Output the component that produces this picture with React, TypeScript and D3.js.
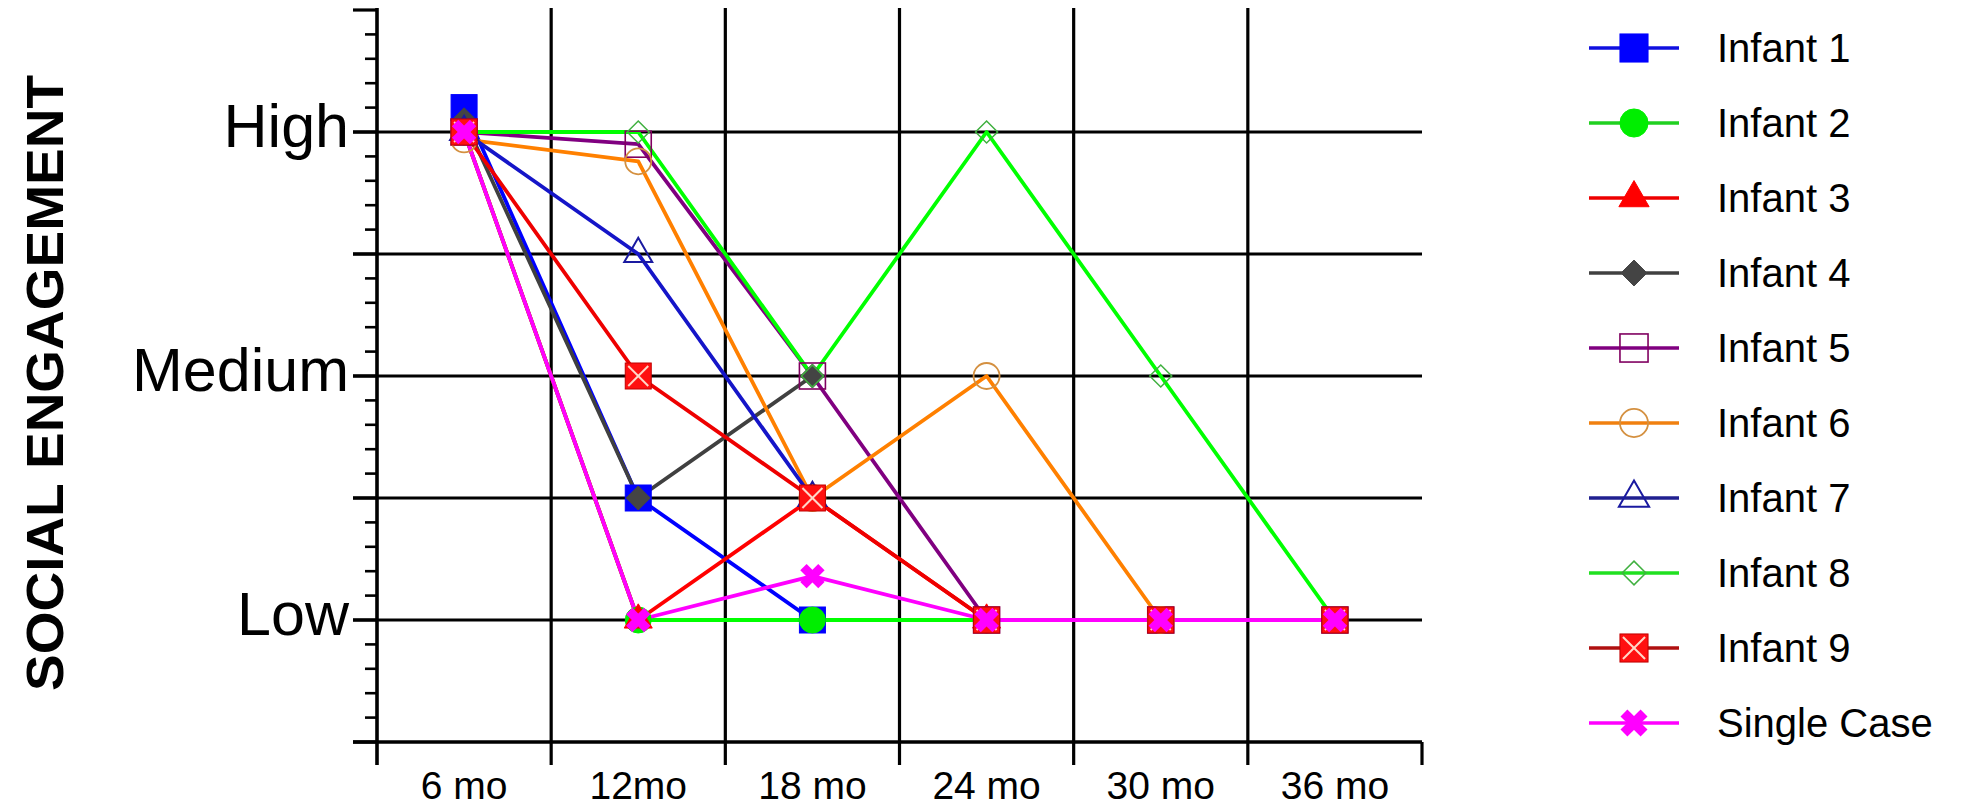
import React from 'react';
import * as d3 from 'd3';

const W = 1964;
const H = 808;

const categories = ['6 mo', '12mo', '18 mo', '24 mo', '30 mo', '36 mo'];
const levelLabels = ['Low', 'Medium', 'High'];
const levelValues = [1, 2, 3];

const infant1 = [3.1, 1.5, 1.0, null, null, null];
const infant2 = [3.0, 1.0, 1.0, 1.0, null, null];
const infant3 = [3.0, 1.0, 1.5, 1.0, null, null];
const infant4 = [3.05, 1.5, 2.0, null, null, null];
const infant5 = [3.0, 2.95, 2.0, 1.0, 1.0, 1.0];
const infant6 = [2.97, 2.88, 1.5, 2.0, 1.0, null];
const infant7 = [3.0, 2.5, 1.5, null, null, null];
const infant8 = [3.0, 3.0, 2.0, 3.0, 2.0, 1.0];
const infant9 = [3.0, 2.0, 1.5, 1.0, 1.0, 1.0];
const singleCase = [3.0, 1.0, 1.18, 1.0, 1.0, 1.0];

type Shape = 'square' | 'circle' | 'triangle' | 'diamond' | 'xsquare' | 'x';
interface Series {
  name: string;
  values: (number | null)[];
  line: string;
  legendLine: string;
  shape: Shape;
  fill: string;
  stroke: string;
  size: number;
  sw: number;
}

const series: Series[] = [
  { name: 'Infant 1', values: infant1, line: '#0000ff', legendLine: '#1010e0', shape: 'square', fill: '#0000ff', stroke: '#0000ff', size: 26, sw: 1 },
  { name: 'Infant 2', values: infant2, line: '#00ff00', legendLine: '#20d020', shape: 'circle', fill: '#00ee00', stroke: '#00ee00', size: 26, sw: 1 },
  { name: 'Infant 3', values: infant3, line: '#ff0000', legendLine: '#ee0000', shape: 'triangle', fill: '#ff0000', stroke: '#ff0000', size: 28, sw: 1 },
  { name: 'Infant 4', values: infant4, line: '#404040', legendLine: '#404040', shape: 'diamond', fill: '#444444', stroke: '#444444', size: 24, sw: 1 },
  { name: 'Infant 5', values: infant5, line: '#800080', legendLine: '#800080', shape: 'square', fill: 'none', stroke: '#800060', size: 26, sw: 1.6 },
  { name: 'Infant 6', values: infant6, line: '#ff8000', legendLine: '#f08010', shape: 'circle', fill: 'none', stroke: '#d49040', size: 26, sw: 1.8 },
  { name: 'Infant 7', values: infant7, line: '#1515c8', legendLine: '#202090', shape: 'triangle', fill: 'none', stroke: '#1a1aa0', size: 28, sw: 2 },
  { name: 'Infant 8', values: infant8, line: '#00ff00', legendLine: '#20e020', shape: 'diamond', fill: 'none', stroke: '#40b040', size: 22, sw: 1.5 },
  { name: 'Infant 9', values: infant9, line: '#ee0000', legendLine: '#b01010', shape: 'xsquare', fill: '#ff1010', stroke: '#c00000', size: 26, sw: 1 },
  { name: 'Single Case', values: singleCase, line: '#ff00ff', legendLine: '#ff00ff', shape: 'x', fill: '#ff00ff', stroke: '#ff00ff', size: 26, sw: 9 },
];

const FONT = '"Liberation Sans", Arial, Helvetica, sans-serif';

function Marker({ s, x, y, scale = 1 }: { s: Series; x: number; y: number; scale?: number }) {
  const size = s.size * scale;
  const h = size / 2;
  if (s.shape === 'square') {
    return <rect x={x - h} y={y - h} width={size} height={size} fill={s.fill} stroke={s.stroke} strokeWidth={s.sw} />;
  }
  if (s.shape === 'circle') {
    return <circle cx={x} cy={y} r={h} fill={s.fill} stroke={s.stroke} strokeWidth={s.sw} />;
  }
  if (s.shape === 'triangle') {
    const th = (size * Math.sqrt(3)) / 2;
    const p = d3.path();
    p.moveTo(x, y - (2 * th) / 3);
    p.lineTo(x + h, y + th / 3);
    p.lineTo(x - h, y + th / 3);
    p.closePath();
    return <path d={p.toString()} fill={s.fill} stroke={s.stroke} strokeWidth={s.sw} />;
  }
  if (s.shape === 'diamond') {
    const p = d3.path();
    p.moveTo(x, y - h);
    p.lineTo(x + h, y);
    p.lineTo(x, y + h);
    p.lineTo(x - h, y);
    p.closePath();
    return <path d={p.toString()} fill={s.fill} stroke={s.stroke} strokeWidth={s.sw} />;
  }
  if (s.shape === 'xsquare') {
    const i = h - 3;
    return (
      <g>
        <rect x={x - h} y={y - h} width={size} height={size} fill={s.fill} stroke={s.stroke} strokeWidth={s.sw} />
        <line x1={x - i} y1={y - i} x2={x + i} y2={y + i} stroke="#ffd8c8" strokeWidth={2} />
        <line x1={x - i} y1={y + i} x2={x + i} y2={y - i} stroke="#ffd8c8" strokeWidth={2} />
      </g>
    );
  }
  const i = h - 4;
  return (
    <g>
      <line x1={x - i} y1={y - i} x2={x + i} y2={y + i} stroke={s.stroke} strokeWidth={s.sw * scale} />
      <line x1={x - i} y1={y + i} x2={x + i} y2={y - i} stroke={s.stroke} strokeWidth={s.sw * scale} />
    </g>
  );
}

export default function App() {
  const left = 377;
  const right = 1422;
  const xScale = d3.scaleBand<string>().domain(categories).range([left, right]).padding(0);
  const yScale = d3.scaleLinear().domain([0.5, 3.5]).range([742, 10]);
  const bw = xScale.bandwidth();
  const cx = (i: number) => (xScale(categories[i]) as number) + bw / 2;

  const bottom = yScale(0.5);
  const top = yScale(3.5);

  const minor = d3.range(5, 36).map((v) => v / 10);
  const isMajor = (v: number) => Math.abs(v * 2 - Math.round(v * 2)) < 1e-6;
  const gridY = [1, 1.5, 2, 2.5, 3];

  const lineGen = d3
    .line<[number, number | null]>()
    .defined((d) => d[1] !== null)
    .x((d) => cx(d[0]))
    .y((d) => yScale(d[1] as number));

  const boundaries = categories.map((c) => xScale(c) as number).concat([right]);

  const legendX0 = 1589;
  const legendX1 = 1679;
  const legendMX = 1634;
  const legendTX = 1717;
  const legendY = (i: number) => 48 + i * 75;

  return (
    <svg width={W} height={H} style={{ position: 'absolute', left: 0, top: 0, background: '#fff' }} fontFamily={FONT}>
      <rect x={0} y={0} width={W} height={H} fill="#ffffff" />
      {/* horizontal gridlines */}
      {gridY.map((v) => (
        <line key={'gy' + v} x1={left - 24} x2={right} y1={yScale(v)} y2={yScale(v)} stroke="#000" strokeWidth={3.2} />
      ))}
      {/* vertical gridlines */}
      {boundaries.slice(1, -1).map((b, i) => (
        <line key={'gx' + i} x1={b} x2={b} y1={top - 2} y2={bottom + 23} stroke="#000" strokeWidth={3.2} />
      ))}
      <line x1={right} x2={right} y1={bottom} y2={bottom + 23} stroke="#000" strokeWidth={3.2} />
      {/* minor / major ticks on y */}
      {minor.map((v) => (
        <line
          key={'t' + v}
          x1={isMajor(v) ? left - 24 : left - 12}
          x2={left}
          y1={yScale(v)}
          y2={yScale(v)}
          stroke="#000"
          strokeWidth={isMajor(v) ? 3.2 : 2.6}
        />
      ))}
      {/* axes */}
      <line x1={left - 24} x2={right} y1={bottom} y2={bottom} stroke="#000" strokeWidth={3.6} />
      <line x1={left} x2={left} y1={top - 2} y2={bottom + 23} stroke="#000" strokeWidth={3.6} />

      {/* y tick labels */}
      {levelValues.map((v, i) => (
        <text key={'yl' + v} x={349} y={yScale(v) + 15} textAnchor="end" fontSize={61} fill="#000">
          {levelLabels[i]}
        </text>
      ))}
      {/* x tick labels */}
      {categories.map((c, i) => (
        <text key={'xl' + c} x={cx(i)} y={799} textAnchor="middle" fontSize={39} fill="#000">
          {c}
        </text>
      ))}
      {/* y axis title */}
      <text
        transform={`translate(63,383) rotate(-90)`}
        textAnchor="middle"
        fontSize={52}
        fontWeight="bold"
        textLength={616}
        lengthAdjust="spacingAndGlyphs"
        fill="#000"
      >
        SOCIAL ENGAGEMENT
      </text>

      {/* series lines */}
      {series.map((s) => (
        <path
          key={'l' + s.name}
          d={lineGen(s.values.map((v, i) => [i, v] as [number, number | null])) || ''}
          fill="none"
          stroke={s.line}
          strokeWidth={3.8}
          strokeLinejoin="round"
        />
      ))}
      {/* markers */}
      {series.map((s) =>
        s.values.map((v, i) =>
          v === null ? null : <Marker key={'m' + s.name + i} s={s} x={cx(i)} y={yScale(v)} />
        )
      )}

      {/* legend */}
      {series.map((s, i) => (
        <g key={'lg' + s.name}>
          <line x1={legendX0} x2={legendX1} y1={legendY(i)} y2={legendY(i)} stroke={s.legendLine} strokeWidth={3.4} />
          <Marker s={s} x={legendMX} y={legendY(i)} scale={1.08} />
          <text x={legendTX} y={legendY(i) + 14} fontSize={40} fill="#000">
            {s.name}
          </text>
        </g>
      ))}
    </svg>
  );
}
